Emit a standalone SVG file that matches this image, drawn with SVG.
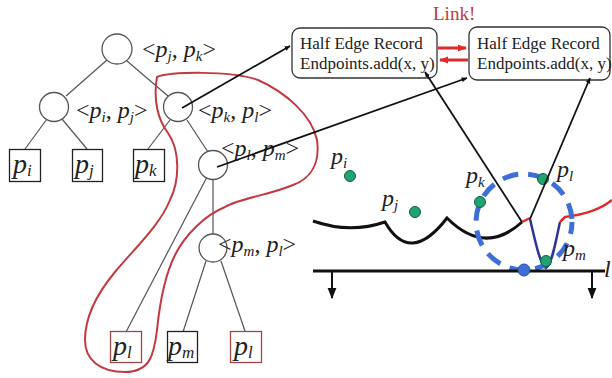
<svg xmlns="http://www.w3.org/2000/svg" width="612" height="378" viewBox="0 0 612 378">
<defs>
<marker id="ah" viewBox="0 0 10 10" refX="9" refY="5" markerWidth="6" markerHeight="6" orient="auto-start-reverse" markerUnits="userSpaceOnUse">
<path d="M0,1 L10,5 L0,9 Z" fill="#111"/>
</marker>
<marker id="ahr" viewBox="0 0 10 10" refX="9" refY="5" markerWidth="9" markerHeight="9" orient="auto" markerUnits="userSpaceOnUse">
<path d="M0,1 L10,5 L0,9 Z" fill="#e02a2a"/>
</marker>
<marker id="ahd" viewBox="0 0 10 10" refX="9" refY="5" markerWidth="11" markerHeight="11" orient="auto" markerUnits="userSpaceOnUse">
<path d="M0,1 L10,5 L0,9 Z" fill="#111"/>
</marker>
</defs>
<style>
text{font-family:"Liberation Serif","Times New Roman",serif;fill:#222}
.lbl{font-size:24px}
.it{font-style:italic}
.sub{font-size:15px;font-style:italic}
.leaf{font-size:28px;font-style:italic}
.lsub{font-size:17px;font-style:italic}
.node{fill:#fff;stroke:#555;stroke-width:1.3}
.box{fill:#fff;stroke:#222;stroke-width:1.3}
.rbox{fill:#fff;stroke:#a04848;stroke-width:1.3}
.edge{stroke:#555;stroke-width:1.2;fill:none}
.her{fill:#fff;stroke:#333;stroke-width:1.3}
.ht{font-size:17px}
.site{fill:#1fa371;stroke:#10603f;stroke-width:1}
.sl{font-size:24px;font-style:italic}
.ssub{font-size:15px;font-style:italic}
</style>
<rect width="612" height="378" fill="#fff"/>

<!-- tree edges -->
<g id="tree-edges">
<line class="edge" x1="107" y1="60" x2="66" y2="96"/>
<line class="edge" x1="127" y1="61" x2="168" y2="96"/>
<line class="edge" x1="47" y1="119" x2="25" y2="149"/>
<line class="edge" x1="62" y1="119" x2="87" y2="149"/>
<line class="edge" x1="170" y1="120" x2="148" y2="149"/>
<line class="edge" x1="187" y1="120" x2="208" y2="152"/>
<line class="edge" x1="207" y1="177" x2="126" y2="332"/>
<line class="edge" x1="213" y1="180" x2="213" y2="234"/>
<line class="edge" x1="206" y1="261" x2="183" y2="332"/>
<line class="edge" x1="221" y1="261" x2="245" y2="331"/>
</g>

<!-- red loop -->
<path d="M157,77 C170,72 230,70 258,80 C285,92 312,115 317,140 C320,162 312,178 293,185 C270,195 240,198 225,207 C205,215 185,235 175,255 C165,275 160,300 157,330 C154,355 150,372 125,372 C100,372 85,360 85,340 C85,315 100,290 115,272 C135,248 160,225 170,200 C180,180 180,150 168,133 C158,120 153,100 157,77 Z" fill="none" stroke="#c23a40" stroke-width="2"/>

<g id="n-root"><circle class="node" cx="117" cy="49" r="15"/>
<text class="lbl" x="142" y="57">&lt;<tspan class="it">p</tspan><tspan class="sub" dy="4">j</tspan><tspan dy="-4">, </tspan><tspan class="it">p</tspan><tspan class="sub" dy="4">k</tspan><tspan dy="-4">&gt;</tspan></text></g>
<g id="n-ij"><circle class="node" cx="54" cy="107" r="14.5"/>
<text class="lbl" x="76" y="118">&lt;<tspan class="it">p</tspan><tspan class="sub" dy="4">i</tspan><tspan dy="-4">, </tspan><tspan class="it">p</tspan><tspan class="sub" dy="4">j</tspan><tspan dy="-4">&gt;</tspan></text></g>
<g id="n-kl"><circle class="node" cx="178" cy="107" r="14.5"/>
<text class="lbl" x="198" y="118">&lt;<tspan class="it">p</tspan><tspan class="sub" dy="4">k</tspan><tspan dy="-4">, </tspan><tspan class="it">p</tspan><tspan class="sub" dy="4">l</tspan><tspan dy="-4">&gt;</tspan></text></g>
<g id="n-lm"><circle class="node" cx="213" cy="165" r="14.5"/>
<text class="lbl" x="221" y="156">&lt;<tspan class="it">p</tspan><tspan class="sub" dy="4">l</tspan><tspan dy="-4">, </tspan><tspan class="it">p</tspan><tspan class="sub" dy="4">m</tspan><tspan dy="-4">&gt;</tspan></text></g>
<g id="n-ml"><circle class="node" cx="213" cy="248" r="14"/>
<text class="lbl" x="218" y="252">&lt;<tspan class="it">p</tspan><tspan class="sub" dy="4">m</tspan><tspan dy="-4">, </tspan><tspan class="it">p</tspan><tspan class="sub" dy="4">l</tspan><tspan dy="-4">&gt;</tspan></text></g>

<g id="leaf-pi"><rect class="box" x="9.5" y="149.5" width="31" height="32"/><text class="leaf" x="13" y="173">p<tspan class="lsub" dy="3">i</tspan></text></g>
<g id="leaf-pj"><rect class="box" x="72.5" y="149.5" width="30" height="32"/><text class="leaf" x="75" y="173">p<tspan class="lsub" dy="3">j</tspan></text></g>
<g id="leaf-pk"><rect class="box" x="133.5" y="149.5" width="31" height="32"/><text class="leaf" x="135" y="173">p<tspan class="lsub" dy="3">k</tspan></text></g>
<g id="leaf-pl1"><rect class="rbox" x="110.5" y="331.5" width="31" height="31"/><text class="leaf" x="113" y="355">p<tspan class="lsub" dy="3">l</tspan></text></g>
<g id="leaf-pm"><rect class="box" x="167.5" y="331.5" width="30" height="31"/><text class="leaf" x="168" y="355">p<tspan class="lsub" dy="3">m</tspan></text></g>
<g id="leaf-pl2"><rect class="rbox" x="230.5" y="331.5" width="31" height="31"/><text class="leaf" x="234" y="355">p<tspan class="lsub" dy="3">l</tspan></text></g>

<!-- half edge records -->
<g id="her1"><rect class="her" x="292" y="28" width="145" height="50" rx="8"/>
<text class="ht" x="300" y="49">Half Edge Record</text><text class="ht" x="300" y="69">Endpoints.add(x, y)</text></g>
<g id="her2"><rect class="her" x="469" y="27" width="141" height="53" rx="8"/>
<text class="ht" x="477" y="49">Half Edge Record</text><text class="ht" x="477" y="69">Endpoints.add(x, y)</text></g>
<text x="433" y="20" font-size="19" style="fill:#c0393e">Link!</text>

<!-- voronoi scene -->
<g id="scene">
<path d="M313,221 Q350,234 385,222 Q410,266 447,218 Q485,256 522,222" fill="none" stroke="#111" stroke-width="3"/>
<path d="M522,222 L530,218" stroke="#e02a2a" stroke-width="2.5"/>
<path d="M530,219 C535,240 540,265 546,268 C552,265 556,240 560,222" fill="none" stroke="#2e3592" stroke-width="2.5"/>
<path d="M560,222 L565,217 C582,215 600,210 612,200" fill="none" stroke="#e02a2a" stroke-width="2.5"/>
<circle cx="524" cy="222" r="48" fill="none" stroke="#3d6fd6" stroke-width="5" stroke-dasharray="16 10" stroke-dashoffset="4"/>
<line x1="313" y1="271" x2="605" y2="271" stroke="#111" stroke-width="3"/>
<text class="sl" x="604" y="277">l</text>
<circle cx="524" cy="270" r="6" fill="#3d6fd6" stroke="#2a4fa8"/>
<circle class="site" cx="350" cy="176" r="5.5"/>
<circle class="site" cx="415" cy="212" r="5.5"/>
<circle class="site" cx="480" cy="202" r="5.5"/>
<circle class="site" cx="543" cy="179" r="5.5"/>
<circle class="site" cx="546" cy="261" r="5.5"/>
<text class="sl" x="331" y="164">p<tspan class="ssub" dy="4">i</tspan></text>
<text class="sl" x="382" y="206">p<tspan class="ssub" dy="4">j</tspan></text>
<text class="sl" x="466" y="183">p<tspan class="ssub" dy="4">k</tspan></text>
<text class="sl" x="557" y="177">p<tspan class="ssub" dy="4">l</tspan></text>
<text class="sl" x="563" y="256">p<tspan class="ssub" dy="4">m</tspan></text>
</g>

<!-- connectors -->
<g id="connectors">
<line x1="182" y1="108" x2="290" y2="46" stroke="#111" stroke-width="1.8" marker-end="url(#ah)"/>
<line x1="217" y1="167" x2="467" y2="78" stroke="#111" stroke-width="1.8" marker-end="url(#ah)"/>
<line x1="522" y1="222" x2="425" y2="72" stroke="#111" stroke-width="1.8" marker-end="url(#ah)"/>
<line x1="530" y1="219" x2="590" y2="78" stroke="#111" stroke-width="1.8" marker-end="url(#ah)"/>
<line x1="438" y1="48" x2="466" y2="48" stroke="#e02a2a" stroke-width="3" marker-end="url(#ahr)"/>
<line x1="468" y1="60" x2="440" y2="60" stroke="#e02a2a" stroke-width="3" marker-end="url(#ahr)"/>
<line x1="332" y1="271" x2="332" y2="298" stroke="#111" stroke-width="2" marker-end="url(#ahd)"/>
<line x1="592" y1="271" x2="592" y2="298" stroke="#111" stroke-width="2" marker-end="url(#ahd)"/>
</g>
</svg>
